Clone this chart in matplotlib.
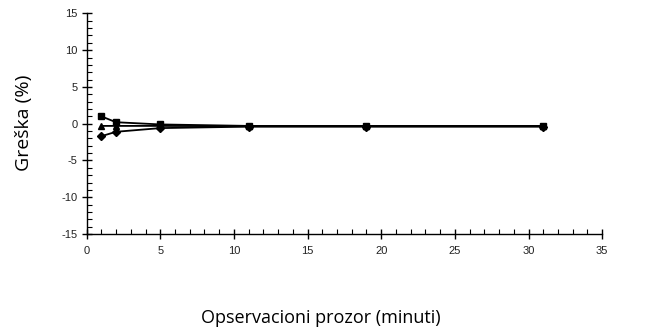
import matplotlib
matplotlib.use("Agg")
import matplotlib.pyplot as plt
from matplotlib.ticker import MultipleLocator

plt.rcParams["axes.unicode_minus"] = False

# Observation window (minutes) and error (%) for three series
window_min = [1, 2, 5, 11, 19, 31]
err_square = [1.0, 0.2, -0.1, -0.3, -0.3, -0.3]
err_triangle = [-0.3, -0.3, -0.3, -0.35, -0.35, -0.35]
err_diamond = [-1.7, -1.1, -0.6, -0.4, -0.4, -0.4]

x_ticks = [0, 5, 10, 15, 20, 25, 30, 35]
y_ticks = [-15, -10, -5, 0, 5, 10, 15]

fig = plt.figure(figsize=(6.61, 3.35), dpi=100)
ax = fig.add_axes([0.131, 0.3015, 0.780, 0.6585])

ax.plot(window_min, err_diamond, color="black", lw=1.3, marker="D", ms=4)
ax.plot(window_min, err_triangle, color="black", lw=1.3, marker="^", ms=5)
ax.plot(window_min, err_square, color="black", lw=1.3, marker="s", ms=5)

ax.set_xlim(0, 35)
ax.set_ylim(-15, 15)
ax.set_xticks(x_ticks)
ax.set_yticks(y_ticks)
ax.xaxis.set_minor_locator(MultipleLocator(1))
ax.yaxis.set_minor_locator(MultipleLocator(1))

for side in ("top", "right"):
    ax.spines[side].set_visible(False)
for side in ("left", "bottom"):
    ax.spines[side].set_linewidth(1.0)

ax.tick_params(which="major", direction="inout", length=7, width=1.0,
               labelsize=8, colors="black", labelcolor="#222222")
ax.tick_params(which="minor", direction="in", length=3.5, width=0.8)
ax.tick_params(axis="x", which="major", pad=5)
ax.tick_params(axis="y", which="major", pad=3)
for lbl in ax.get_xticklabels() + ax.get_yticklabels():
    lbl.set_fontfamily("Liberation Sans")

fig.text(0.037, 0.633, "Greška (%)", rotation=90, ha="center", va="center",
         fontsize=14, family="Open Sans")
fig.text(0.486, 0.05, "Opservacioni prozor (minuti)", ha="center", va="center",
         fontsize=13, family="Open Sans")

fig.savefig("out.png", dpi=100)
